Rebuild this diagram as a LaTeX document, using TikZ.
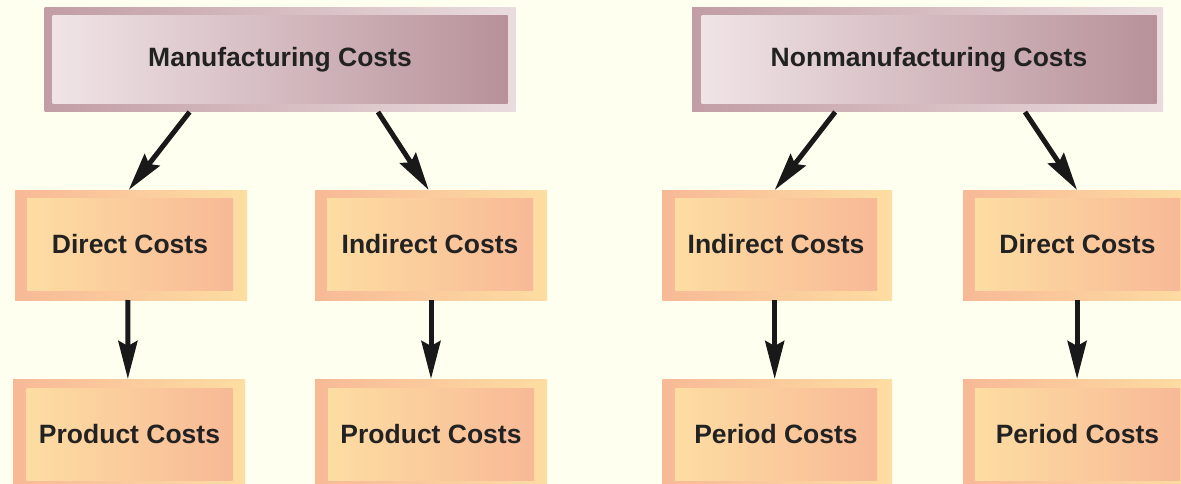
\documentclass[tikz,border=0pt]{standalone}
\usepackage{fontspec}
\setmainfont{Liberation Sans}
\usetikzlibrary{arrows.meta,calc}

\definecolor{paper}{HTML}{FFFFF0}
\definecolor{mauveDark}{HTML}{B8919A}
\definecolor{mauveMid}{HTML}{C29DA5}
\definecolor{mauveLight}{HTML}{F0E4E6}
\definecolor{mauvePale}{HTML}{EADCDE}
\definecolor{peachSalmon}{HTML}{F8B996}
\definecolor{peachLight}{HTML}{FDDDA2}
\definecolor{inkText}{HTML}{222222}

\tikzset{
  every node/.style={inner sep=0pt, outer sep=0pt},
  headframe/.style={rectangle, minimum width=471pt, minimum height=104pt,
    left color=mauveMid, right color=mauvePale},
  headbox/.style={rectangle, minimum width=455pt, minimum height=88pt,
    left color=mauveLight, right color=mauveDark,
    font=\fontsize{26.5}{30}\selectfont\bfseries, text=inkText},
  costframe/.style={rectangle, minimum width=232pt, minimum height=110pt,
    left color=peachSalmon, right color=peachLight},
  costbox/.style={rectangle, minimum width=206pt, minimum height=92pt,
    left color=peachLight, right color=peachSalmon,
    font=\fontsize{26.5}{30}\selectfont\bfseries, text=inkText},
  flow/.style={line width=5pt, draw=black!90,
    -{Stealth[length=38pt, width=19pt, inset=5pt]}}
}

\begin{document}
\begin{tikzpicture}[x=1pt, y=-1pt]
\useasboundingbox (0,0) rectangle (1181,484);
\clip (0,0) rectangle (1181,484);
\fill[paper] (0,0) rectangle (1181,484);

% top row
\node[headframe] (mfgO) at (280,60) {};
\node[headbox] (mfg) at (280,60) {Manufacturing Costs};
\node[headframe] (nonO) at (927.5,60) {};
\node[headbox] (non) at (929,60) {Nonmanufacturing Costs};

% middle row
\node[costframe] (dcAO) at (131,245) {};
\node[costbox] (dcA) at (130,244) {Direct Costs};
\node[costframe] (icAO) at (431,245) {};
\node[costbox] (icA) at (430,244) {Indirect Costs};
\node[costframe, minimum width=230pt] (icBO) at (777,245) {};
\node[costbox, minimum width=202pt] (icB) at (776,244) {Indirect Costs};
\node[costframe, minimum width=230pt] (dcBO) at (1078,245) {};
\node[costbox, minimum width=205pt] (dcB) at (1077.5,244) {Direct Costs};

% bottom row
\node[costframe] (pcAO) at (129,434) {};
\node[costbox] (pcA) at (129.5,434) {Product Costs};
\node[costframe] (pcBO) at (431,434) {};
\node[costbox] (pcB) at (431,434) {Product Costs};
\node[costframe, minimum width=230pt] (pdAO) at (777,434) {};
\node[costbox, minimum width=202pt] (pdA) at (776,434) {Period Costs};
\node[costframe, minimum width=230pt] (pdBO) at (1078,434) {};
\node[costbox, minimum width=205pt] (pdB) at (1077.5,434) {Period Costs};

% arrows from the heads
\draw[flow] ($(mfgO.south west)!0.308!(mfgO.south east)$) -- ($(dcAO.north west)!0.49!(dcAO.north east)$);
\draw[flow] ($(mfgO.south west)!0.708!(mfgO.south east)$) -- ($(icAO.north west)!0.49!(icAO.north east)$);
\draw[flow] ($(nonO.south west)!0.304!(nonO.south east)$) -- ($(icBO.north west)!0.49!(icBO.north east)$);
\draw[flow] ($(nonO.south west)!0.707!(nonO.south east)$) -- ($(dcBO.north west)!0.496!(dcBO.north east)$);

% arrows down to the cost classes
\draw[flow] ($(dcAO.south west)!0.487!(dcAO.south east)$) -- ($(pcAO.north west)!0.495!(pcAO.north east)$);
\draw[flow] (icAO.south) -- (pcBO.north);
\draw[flow] ($(icBO.south west)!0.49!(icBO.south east)$) -- ($(pdAO.north west)!0.49!(pdAO.north east)$);
\draw[flow] ($(dcBO.south west)!0.496!(dcBO.south east)$) -- ($(pdBO.north west)!0.496!(pdBO.north east)$);
\end{tikzpicture}
\end{document}
